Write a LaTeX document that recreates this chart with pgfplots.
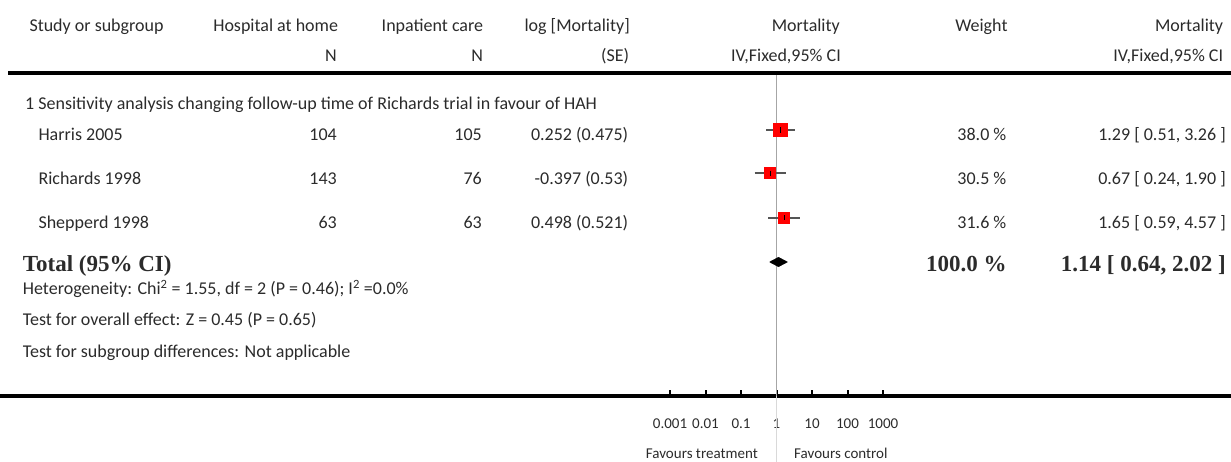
\documentclass[border=0pt]{standalone}
\usepackage{fontspec}
\setmainfont{Carlito}
\newfontfamily\totfont{Liberation Serif}
\usepackage{pgfplots}
\pgfplotsset{compat=1.18}

\definecolor{txt}{HTML}{2B2B2B}
\definecolor{whisk}{HTML}{555555}
\definecolor{refl}{HTML}{A6A6A6}
\definecolor{refl2}{HTML}{D9D9D9}

\newcommand{\bodyf}{\fontsize{18}{20}\selectfont}
\newcommand{\smallf}{\fontsize{15}{17}\selectfont}
\newcommand{\totf}{\totfont\bfseries\fontsize{23}{25}\selectfont}

\begin{document}
\begin{tikzpicture}
\useasboundingbox (0pt,0pt) rectangle (1231pt,462pt);

% text columns, in pixel rows (y grows downwards)
\begin{scope}[shift={(0pt,462pt)}, x=1pt, y=-1pt,
  every node/.style={inner sep=0pt, text=txt, font=\bodyf}]
  % header
  \node[anchor=base west] at (29.3,32) {Study or subgroup};
  \node[anchor=base east] at (338.3,32) {Hospital at home};
  \node[anchor=base east] at (337,62) {N};
  \node[anchor=base east] at (483.3,32) {Inpatient care};
  \node[anchor=base east] at (483.3,62) {N};
  \node[anchor=base east] at (630,32) {log [Mortality]};
  \node[anchor=base east] at (629.3,62) {(SE)};
  \node[anchor=base east] at (840,32) {Mortality};
  \node[anchor=base east] at (841,62) {IV,Fixed,95\% CI};
  \node[anchor=base east] at (1007.7,32) {Weight};
  \node[anchor=base east] at (1223.3,32) {Mortality};
  \node[anchor=base east] at (1223.3,62) {IV,Fixed,95\% CI};
  \draw[line width=4pt] (8,73) -- (1231,73);

  \node[anchor=base west] at (25,110) {1 Sensitivity analysis changing follow-up time of Richards trial in favour of HAH};

  % studies
  \node[anchor=base west] at (38.3,140.7) {Harris 2005};
  \node[anchor=base east] at (337,140.7) {104};
  \node[anchor=base east] at (482,140.7) {105};
  \node[anchor=base east] at (628.3,140.7) {0.252 (0.475)};
  \node[anchor=base east] at (1006.5,140.7) {38.0 \%};
  \node[anchor=base east] at (1226,140.7) {1.29 [ 0.51, 3.26 ]};

  \node[anchor=base west] at (38.3,185) {Richards 1998};
  \node[anchor=base east] at (337,185) {143};
  \node[anchor=base east] at (482,185) {76};
  \node[anchor=base east] at (628.3,185) {-0.397 (0.53)};
  \node[anchor=base east] at (1006.5,185) {30.5 \%};
  \node[anchor=base east] at (1226,185) {0.67 [ 0.24, 1.90 ]};

  \node[anchor=base west] at (38.3,229) {Shepperd 1998};
  \node[anchor=base east] at (337,229) {63};
  \node[anchor=base east] at (482,229) {63};
  \node[anchor=base east] at (628.3,229) {0.498 (0.521)};
  \node[anchor=base east] at (1006.5,229) {31.6 \%};
  \node[anchor=base east] at (1226,229) {1.65 [ 0.59, 4.57 ]};

  % total
  \node[anchor=base west, font=\totf] at (22.7,272) {Total (95\% CI)};
  \node[anchor=base east, font=\totf] at (1006.7,272) {100.0 \%};
  \node[anchor=base east, font=\totf] at (1226,272) {1.14 [ 0.64, 2.02 ]};

  \node[anchor=base west] at (22.7,294.5) {Heterogeneity: Chi\textsuperscript{2} = 1.55, df = 2 (P = 0.46); I\textsuperscript{2} =0.0\%};
  \node[anchor=base west] at (22.7,326) {Test for overall effect: Z = 0.45 (P = 0.65)};
  \node[anchor=base west] at (22.7,357.3) {Test for subgroup differences: Not applicable};

  \draw[line width=4pt] (0,396) -- (1231,396);
  \node[anchor=base east, font=\smallf] at (758,459) {Favours treatment};
  \node[anchor=base west, font=\smallf] at (794,459) {Favours control};
\end{scope}

\begin{axis}[
  at={(670pt,66pt)}, anchor=south west,
  scale only axis, width=213pt, height=396pt,
  xmode=log, xmin=1e-3, xmax=1e3,
  ymin=0, ymax=396, y dir=reverse,
  axis line style={draw=none}, clip=false,
  xtick={1e-3,1e-2,1e-1,1,10,100,1000},
  xticklabels={0.001,0.01,0.1,1,10,100,1000},
  xminorticks=false, ytick=\empty,
  xtick pos=bottom, tick align=inside,
  major tick length=6pt,
  every tick/.style={black, line width=2pt},
  xticklabel style={font=\smallf, text=txt, anchor=base, yshift=-32pt, inner sep=0pt},
]
  % line of no effect
  \addplot[refl, line width=1.5pt] coordinates {(1,75) (1,396)};
  \addplot[refl2, line width=1.5pt] coordinates {(1,396) (1,462)};

  % confidence intervals
  \addplot[whisk, line width=1.8pt] coordinates {(0.51,130) (3.26,130)};
  \addplot[whisk, line width=1.8pt] coordinates {(0.24,173.3) (1.90,173.3)};
  \addplot[whisk, line width=1.8pt] coordinates {(0.59,217.7) (4.57,217.7)};

  % weighted squares
  \addplot[red, only marks, mark=square*, mark size=6.65pt, mark options={fill=red, draw=red, line width=0pt}] coordinates {(1.29,130)};
  \addplot[red, only marks, mark=square*, mark size=5.5pt, mark options={fill=red, draw=red, line width=0pt}] coordinates {(0.67,173.3)};
  \addplot[red, only marks, mark=square*, mark size=5.6pt, mark options={fill=red, draw=red, line width=0pt}] coordinates {(1.65,217.7)};
  \addplot[black, only marks, mark=|, mark size=2.6pt, mark options={black, line width=0.8pt}] coordinates {(1.29,130) (0.67,173.3) (1.65,217.7)};

  % pooled estimate
  \addplot[fill=black, draw=black, line width=0.5pt] coordinates {(0.64,262) (1.14,257.3) (2.02,262) (1.14,266.7) (0.64,262)};
\end{axis}
\end{tikzpicture}
\end{document}
